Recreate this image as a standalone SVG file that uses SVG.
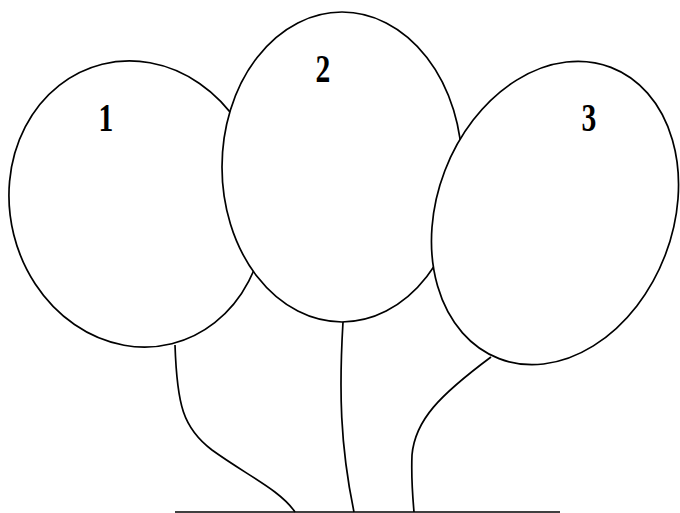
<svg xmlns="http://www.w3.org/2000/svg" width="680" height="513" viewBox="0 0 680 513">
<style>
.b{fill:#fff;stroke:#000;stroke-width:1.7}
.c{fill:none;stroke:#000;stroke-width:1.7}
.t{font-family:"Liberation Serif","DejaVu Serif",serif;font-size:40px;font-weight:bold;fill:#000}
</style>
<rect width="680" height="513" fill="#fff"/>
<g id="connectors">
<path class="c" d="M175,345 C177,405 183,428 212,450 C248,476 280,490 295,512"/>
<path class="c" d="M343,322 C339,390 340,445 354,512"/>
<path class="c" d="M491,357 C440,395 415,420 412,455 C411,480 413,500 414,512"/>
<line class="c" x1="175" y1="512" x2="560" y2="512"/>
</g>
<g id="balloon1">
<ellipse class="b" cx="137" cy="204" rx="127" ry="144" transform="rotate(-14 137 204)"/>
<text class="t" transform="translate(106,131) scale(0.74,1)" text-anchor="middle">1</text>
</g>
<g id="balloon2">
<ellipse class="b" cx="342" cy="167" rx="120" ry="155"/>
<text class="t" transform="translate(323,82) scale(0.74,1)" text-anchor="middle">2</text>
</g>
<g id="balloon3">
<ellipse class="b" cx="555" cy="213" rx="118" ry="156" transform="rotate(21 555 213)"/>
<text class="t" transform="translate(589,131) scale(0.74,1)" text-anchor="middle">3</text>
</g>
</svg>
